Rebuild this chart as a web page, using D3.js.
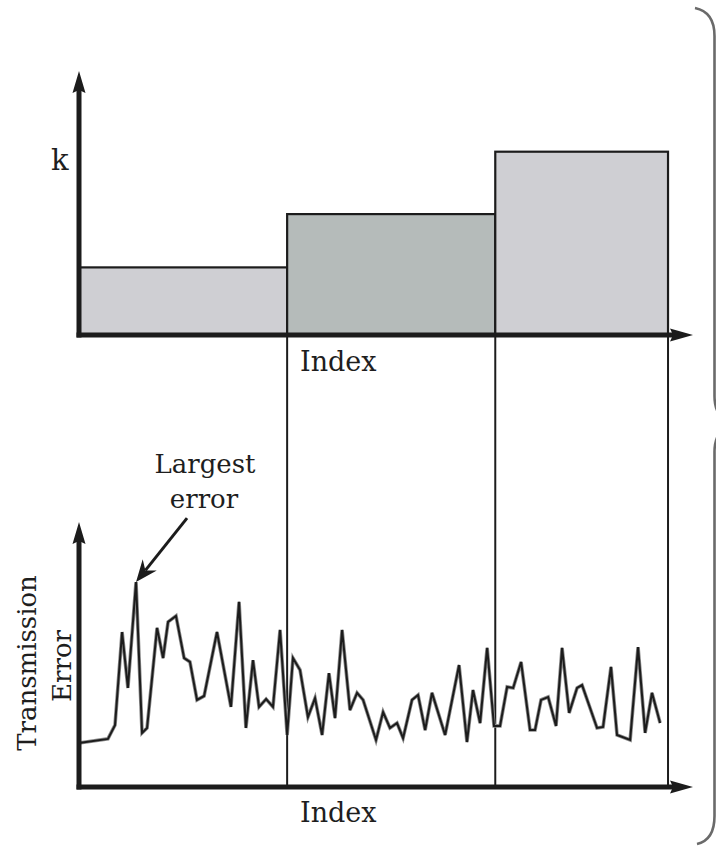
<!DOCTYPE html>
<html>
<head>
<meta charset="utf-8">
<script src="https://cdn.jsdelivr.net/npm/d3@7"></script>
<style>
  html, body { margin: 0; padding: 0; background: #fff; }
  svg { display: block; }
  text { font-family: "DejaVu Serif", serif; fill: #1e1e1e; }
</style>
</head>
<body>
<svg id="chart" width="716" height="846"></svg>
<script>
// Piecewise-constant k over three index segments
const segStart = [0, 100, 200];
const segEnd = [100, 200, 283];
const kValues = [2.6, 4.65, 7.05];

// Transmission error sampled along the index
const errIndex = [0, 13.9, 17.3, 20.7, 23.5, 27.4, 30.3, 32.7, 37.5, 40.4,
  42.8, 46.6, 50.5, 53.3, 56.7, 60.1, 66.3, 73.0, 76.9, 80.2,
  83.6, 86.5, 89.9, 93.2, 96.6, 100.0, 102.8, 106.2, 110.0, 113.4,
  116.8, 120.1, 123.0, 126.4, 130.2, 133.6, 136.5, 142.7, 146.1, 149.4,
  152.8, 155.7, 160.0, 162.9, 166.3, 169.6, 175.9, 182.6, 186.4, 189.3,
  192.7, 196.1, 199.4, 202.3, 205.7, 208.6, 212.4, 216.7, 219.1, 222.0,
  225.4, 229.2, 232.1, 235.5, 239.3, 241.7, 248.9, 251.8, 255.6, 258.5,
  264.8, 268.6, 272.0, 275.3, 279.2];
const errValues = [16.9, 18.5, 23.8, 59.6, 38.1, 78.8, 20.8, 22.7, 61.2, 49.6,
  63.5, 65.8, 49.6, 48.1, 33.5, 35.0, 59.6, 30.8, 71.2, 22.7,
  48.8, 30.8, 33.8, 30.8, 60.4, 20.0, 49.6, 45.0, 26.9, 34.2,
  20.0, 43.8, 26.5, 60.4, 29.6, 36.2, 33.5, 18.1, 28.8, 22.7,
  24.6, 18.8, 33.5, 35.4, 21.9, 36.2, 20.0, 46.9, 17.3, 37.3,
  24.6, 53.5, 23.5, 23.5, 38.5, 38.1, 48.1, 21.9, 21.9, 33.5,
  34.6, 23.5, 53.5, 28.5, 38.1, 39.2, 22.7, 23.1, 46.2, 20.0,
  18.1, 53.8, 20.8, 36.2, 24.6];

const xLabel = "Index";
const kLabel = "k";
const errLabel = ["Transmission", "Error"];
const noteLabel = ["Largest", "error"];

const svg = d3.select("#chart");

// Shared index scale for both panels
const x = d3.scaleLinear().domain([0, 295]).range([79, 693]);
const yK = d3.scaleLinear().domain([0, 10]).range([335, 75]);
const yE = d3.scaleLinear().domain([0, 100]).range([787, 527]);

const ink = "#1c1c1c";

// ---- top panel: k bars ----
const bars = segStart.map((s, i) => ({ s, e: segEnd[i], k: kValues[i] }));
const barFill = ["#cfcfd3", "#b5bbba", "#cfcfd3"];
svg.append("g").selectAll("rect")
  .data(bars)
  .join("rect")
  .attr("x", d => x(d.s))
  .attr("y", d => yK(d.k))
  .attr("width", d => x(d.e) - x(d.s))
  .attr("height", d => yK(0) - yK(d.k))
  .attr("fill", (d, i) => barFill[i])
  .attr("stroke", ink)
  .attr("stroke-width", 2.2);

// ---- connectors from segment boundaries down to the lower axis ----
svg.append("g").selectAll("line")
  .data(segEnd)
  .join("line")
  .attr("x1", d => x(d)).attr("x2", d => x(d))
  .attr("y1", yK(0)).attr("y2", yE(0))
  .attr("stroke", ink)
  .attr("stroke-width", 2);

// ---- bottom panel: transmission error line ----
const pts = errIndex.map((v, i) => [v, errValues[i]]);
const line = d3.line().x(d => x(d[0])).y(d => yE(d[1]));
svg.append("path").datum(pts)
  .attr("d", line)
  .attr("fill", "none")
  .attr("stroke", "#8c8c8c")
  .attr("stroke-width", 3.6)
  .attr("stroke-linejoin", "miter");
svg.append("path").datum(pts)
  .attr("d", line)
  .attr("fill", "none")
  .attr("stroke", ink)
  .attr("stroke-width", 2)
  .attr("stroke-linejoin", "miter");

// ---- axes with arrowheads ----
function axisPair(yScale, topTip) {
  const g = svg.append("g");
  const x0 = x(0), y0 = yScale(0);
  const xTip = x.range()[1];
  g.append("line")
    .attr("x1", x0).attr("x2", x0)
    .attr("y1", y0 + 2.5).attr("y2", topTip + 14)
    .attr("stroke", ink).attr("stroke-width", 5);
  g.append("line")
    .attr("x1", x0 - 2.5).attr("x2", xTip - 14)
    .attr("y1", y0).attr("y2", y0)
    .attr("stroke", ink).attr("stroke-width", 5);
  g.append("path")
    .attr("d", `M${x0},${topTip} L${x0 + 6.5},${topTip + 22} L${x0},${topTip + 19} L${x0 - 6.5},${topTip + 22} Z`)
    .attr("fill", ink);
  g.append("path")
    .attr("d", `M${xTip},${y0} L${xTip - 23},${y0 - 6.5} L${xTip - 20},${y0} L${xTip - 23},${y0 + 6.5} Z`)
    .attr("fill", ink);
}
axisPair(yK, 71);
axisPair(yE, 522);

// ---- labels ----
svg.append("text").attr("x", 300).attr("y", 371).attr("font-size", 27).text(xLabel);
svg.append("text").attr("x", 300).attr("y", 822).attr("font-size", 27).text(xLabel);
svg.append("text").attr("x", 51).attr("y", 170).attr("font-size", 29).text(kLabel);

svg.append("text")
  .attr("transform", "translate(36,663) rotate(-90)")
  .attr("text-anchor", "middle").attr("font-size", 26).text(errLabel[0]);
svg.append("text")
  .attr("transform", "translate(71,666) rotate(-90)")
  .attr("text-anchor", "middle").attr("font-size", 26).text(errLabel[1]);

// ---- annotation pointing at the largest error ----
const maxI = d3.maxIndex(errValues);
const px = x(errIndex[maxI]), py = yE(errValues[maxI]);
const sx = px + 51, sy = py - 64;
const ang = Math.atan2(sy - py, sx - px);
const ux = Math.cos(ang), uy = Math.sin(ang);
const nx = -uy, ny = ux;
const headLen = 22, headW = 9, notch = 15;
svg.append("line")
  .attr("x1", sx).attr("y1", sy)
  .attr("x2", px + ux * notch).attr("y2", py + uy * notch)
  .attr("stroke", ink).attr("stroke-width", 3);
svg.append("path")
  .attr("d", `M${px},${py}
    L${px + ux * headLen + nx * headW},${py + uy * headLen + ny * headW}
    L${px + ux * notch},${py + uy * notch}
    L${px + ux * headLen - nx * headW},${py + uy * headLen - ny * headW} Z`)
  .attr("fill", ink);

svg.append("text").attr("x", 205).attr("y", 473).attr("text-anchor", "middle")
  .attr("font-size", 26).text(noteLabel[0]);
svg.append("text").attr("x", 204).attr("y", 508).attr("text-anchor", "middle")
  .attr("font-size", 26).text(noteLabel[1]);

// ---- curly brace grouping both panels ----
const bx = 714.5;
const brace = d3.path();
brace.moveTo(695, 8);
brace.quadraticCurveTo(bx, 12, bx, 36);
brace.lineTo(bx, 396);
brace.quadraticCurveTo(bx, 418, 732, 424);
brace.quadraticCurveTo(bx, 430, bx, 452);
brace.lineTo(bx, 816);
brace.quadraticCurveTo(bx, 840, 697, 844);
svg.append("path")
  .attr("d", brace.toString())
  .attr("fill", "none")
  .attr("stroke", "#6a6a6a")
  .attr("stroke-width", 2.6);
</script>
</body>
</html>
